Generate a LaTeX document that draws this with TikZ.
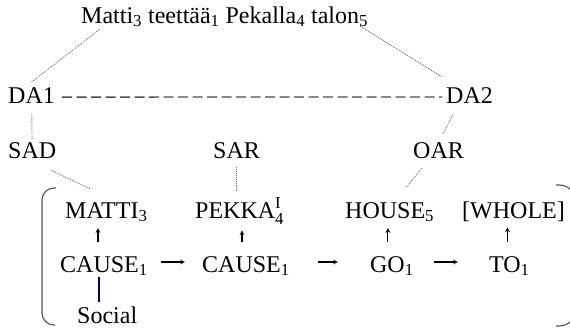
\documentclass[tikz,border=0pt]{standalone}
\usepackage{amsmath}
\usepackage{fontspec}
\setmainfont{Liberation Serif}
\usetikzlibrary{arrows,positioning}

\begin{document}
\begin{tikzpicture}[
    x=1pt, y=-1pt,
    every node/.style={font=\fontsize{24}{28}\selectfont, inner sep=0pt, anchor=base west},
    link/.style={densely dotted, black!55, line width=0.9pt},
    dashlink/.style={dash pattern=on 10pt off 4.5pt, black!70, line width=1.3pt},
    uparrow/.style={->, >=stealth, line width=1.1pt, shorten <=14pt, shorten >=6pt},
    flow/.style={->, >=stealth, line width=1.1pt},
    stemline/.style={line width=1.3pt, color=black!60!blue},
    paren/.style={black!65, line width=1.2pt}
]
\useasboundingbox (0,0) rectangle (570,330);
\clip (0,0) rectangle (570,330);

% sentence and actors
\node (sent) at (81,23) {Matti\textsubscript{3} teettää\textsubscript{1} Pekalla\textsubscript{4} talon\textsubscript{5}};
\node (da1) at (8,103) {DA1};
\node (da2) at (446,103) {DA2};
\node (sad) at (8,158) {SAD};
\node (sar) at (213,158) {SAR};
\node (oar) at (413,158) {OAR};

% conceptual structure
\node (c1) at (60,272) {CAUSE\textsubscript{1}};
\node[base right=54pt of c1] (c2) {CAUSE\textsubscript{1}};
\node[base right=80pt of c2] (go) {GO\textsubscript{1}};
\node[base right=75pt of go] (to) {TO\textsubscript{1}};
\node (matti) at (65,218) {MATTI\textsubscript{3}};
\node (pekka) at (195,218) {PEKKA$^{\text{I}}_{\text{4}}$};
\node (house) at (345,218) {HOUSE\textsubscript{5}};
\node (whole) at (462,218) {[WHOLE]};
\node (social) at (77,323) {Social};

% linking lines
\draw[link] ([xshift=19pt,yshift=-2pt]sent.south west) -- ([yshift=5pt]da1.north);
\draw[link] ([xshift=-8pt,yshift=1pt]sent.south east) -- ([xshift=-4pt,yshift=10pt]da2.north west);
\draw[dashlink, shorten <=7pt, shorten >=4pt] ([yshift=-2pt]da1.east) -- ([yshift=-2pt]da2.west);
\draw[link, shorten <=10pt, shorten >=3pt] (da1) -- (sad);
\draw[link] ([xshift=-5pt,yshift=-12pt]sad.south east) -- ([xshift=-16pt,yshift=13pt]matti.north);
\draw[link, shorten <=9pt, shorten >=7pt] (sar.south) -- (sar.south |- pekka.north);
\draw[link] ([xshift=-17pt,yshift=-12pt]da2.south) -- ([xshift=5pt,yshift=9pt]oar.north);
\draw[link] ([xshift=-17pt,yshift=-10pt]oar.south) -- ([xshift=17pt,yshift=15pt]house.north);

% arrows
\draw[uparrow] ([xshift=-6pt]c1.north) -- ([xshift=-6pt]c1.north |- matti.south);
\draw[uparrow] ([xshift=-4pt]c2.north) -- ([xshift=-4pt]c2.north |- pekka.south);
\draw[uparrow] ([xshift=-4pt]go.north) -- ([xshift=-4pt]go.north |- house.south);
\draw[uparrow] ([xshift=-2pt]to.north) -- ([xshift=-2pt]to.north |- whole.south);
\draw[flow, shorten <=13pt, shorten >=17pt] ([yshift=10pt]c1.base east) -- ([yshift=10pt]c2.base west);
\draw[flow, shorten <=28pt, shorten >=32pt] ([yshift=10pt]c2.base east) -- ([yshift=10pt]go.base west);
\draw[flow, shorten <=20pt, shorten >=31pt] ([yshift=10pt]go.base east) -- ([yshift=10pt]to.base west);
\draw[stemline, shorten <=1pt, shorten >=4pt] ([xshift=-5pt]c1.south) -- ([xshift=-5pt]c1.south |- social.north);

% brackets
\draw[paren, rounded corners=12pt] (56,188) -- (42,188) -- (42,325) -- (55,325);
\draw[paren, rounded corners=17pt] (556,185) -- (576,185) -- (576,326) -- (556,326);

\end{tikzpicture}
\end{document}
